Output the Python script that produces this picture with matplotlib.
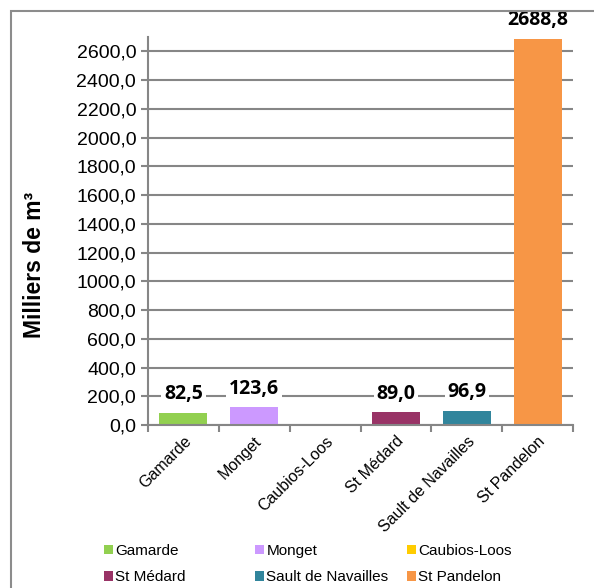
import matplotlib.pyplot as plt
from matplotlib.patches import Rectangle

# data
communes = ["Gamarde", "Monget", "Caubios-Loos", "St Médard", "Sault de Navailles", "St Pandelon"]
volumes = [82.5, 123.6, 0.0, 89.0, 96.9, 2688.8]
labels = ["82,5", "123,6", "", "89,0", "96,9", "2688,8"]
colors = ["#92D050", "#CC99FF", "#FFCC00", "#993366", "#31859C", "#F79646"]
yticks = list(range(0, 2601, 200))

plt.rcParams['font.family'] = ['Liberation Sans', 'DejaVu Sans']

fig = plt.figure(figsize=(5.94, 5.88), dpi=100)
# outer chart border (only top/left visible in the original)
fig.patches.append(Rectangle((11 / 594, -0.05), 1.1, 1 - 11 / 588 + 0.05,
                             transform=fig.transFigure, fill=False,
                             edgecolor="#8C8C8C", linewidth=1.5))

ax = fig.add_axes([148 / 594, 1 - 425 / 588, 425 / 594, 388 / 588])

x = list(range(len(communes)))
bars = []
for i in x:
  b = ax.bar(i, volumes[i], width=0.68, color=colors[i], label=communes[i], zorder=2)
  bars.append(b)
  if labels[i]:
    ax.text(i, volumes[i] + 130, labels[i], ha="center", va="center",
            fontsize=14, fontweight="bold", family=["Open Sans", "DejaVu Sans"],
            bbox=dict(facecolor="white", edgecolor="none", pad=2), zorder=3)

ax.set_xlim(-0.5, len(communes) - 0.5)
ax.set_ylim(0, 2700)
ax.set_yticks(yticks)
ax.set_yticklabels([f"{v},0" for v in yticks], fontsize=14)
ax.yaxis.grid(True, color="#868686", linewidth=1.5, zorder=0)
ax.set_axisbelow(True)

# category ticks on boundaries, labels at centres
ax.set_xticks([i - 0.5 for i in range(len(communes) + 1)])
ax.set_xticklabels([])
ax.set_xticks(x, minor=True)
ax.set_xticklabels(communes, minor=True, rotation=45, ha="right",
                   rotation_mode="anchor", fontsize=11.5)
ax.tick_params(axis="x", which="minor", length=0, pad=6)
ax.tick_params(axis="x", which="major", length=5, color="#868686", width=1.5)
ax.tick_params(axis="y", length=5, color="#868686", width=1.5, direction="out")

for s in ["top", "right"]:
  ax.spines[s].set_visible(False)
for s in ["left", "bottom"]:
  ax.spines[s].set_color("#868686")
  ax.spines[s].set_linewidth(1.5)

ax.set_ylabel("Milliers de m³", fontsize=16.5, fontweight="bold")
ax.yaxis.set_label_coords((46 - 148) / 425, (425 - 265) / 388)

# legend: three fixed columns, two rows each
col_x = [104, 255, 407]
for c in range(3):
  idx = [c, c + 3]
  fig.legend([bars[k] for k in idx], [communes[k] for k in idx],
             loc="center left", bbox_to_anchor=(col_x[c] / 594, 1 - 564 / 588),
             frameon=False, fontsize=11, handlelength=0.6, handleheight=0.6,
             handletextpad=0.15, borderpad=0, borderaxespad=0, labelspacing=0.8)

fig.savefig("out.png", dpi=100)
